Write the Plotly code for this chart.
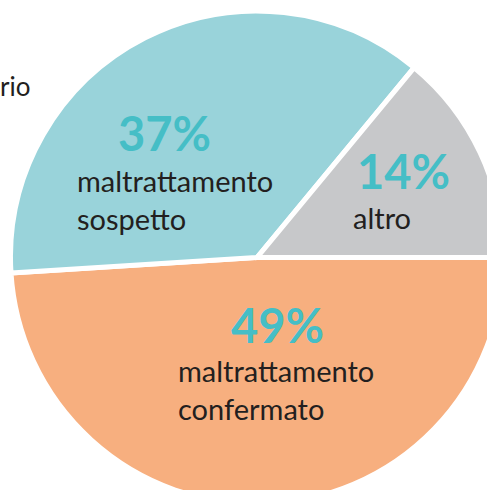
import plotly.graph_objects as go

# Data
categories = ["maltrattamento confermato", "maltrattamento sospetto", "altro"]
values = [49, 37, 14]
pct_labels = ["49%", "37%", "14%"]
name_lines = [["maltrattamento", "confermato"], ["maltrattamento", "sospetto"], ["altro"]]
colors = ["#F7AF7F", "#99D3DA", "#C7C8CA"]

W, H = 514, 515
R = 246.5
cx, cy = 257, 257.5

fig = go.Figure(go.Pie(
    labels=categories, values=values, sort=False, direction="clockwise",
    rotation=90, textinfo="none", hoverinfo="label+percent",
    marker=dict(colors=colors, line=dict(color="white", width=5)),
    domain=dict(x=[(cx - R) / W, (cx + R) / W], y=[1 - (cy + R) / H, 1 - (cy - R) / H]),
    showlegend=False,
))

def px(x, y):
    return x / W, 1 - y / H

TEAL = "#45BEC6"
DARK = "#231F20"
FONT = "Lato"

anns = []
# percentage labels (center positions)
pct_pos = [(277, 325), (164, 133), (403, 171)]
for (x, y), t in zip(pct_pos, pct_labels):
    ax, ay = px(x, y)
    anns.append(dict(x=ax, y=ay, xref="paper", yref="paper", text=f"<b>{t}</b>",
                     showarrow=False, xanchor="center", yanchor="middle",
                     font=dict(family=FONT, size=47, color=TEAL)))
# category names (left x, top y of block)
name_pos = [(176, 351), (75, 161), (351, 198)]
for (x, y), lines in zip(name_pos, name_lines):
    ax, ay = px(x, y)
    anns.append(dict(x=ax, y=ay, xref="paper", yref="paper", text="<br>".join(lines),
                     showarrow=False, xanchor="left", yanchor="top", align="left",
                     font=dict(family=FONT, size=29, color=DARK)))
# cut-off label on the left (cropped in the original too)
ax, ay = px(-2, 86)
anns.append(dict(x=ax, y=ay, xref="paper", yref="paper", text="rio", showarrow=False,
                 xanchor="left", yanchor="middle", font=dict(family=FONT, size=26, color=DARK)))

fig.update_layout(
    width=W, height=H, margin=dict(l=0, r=0, t=0, b=0),
    paper_bgcolor="white", plot_bgcolor="white",
    annotations=anns,
)

fig.write_html("out.html", config={"displayModeBar": False},
               post_script="document.body.style.margin='0';document.body.style.overflow='hidden';")
